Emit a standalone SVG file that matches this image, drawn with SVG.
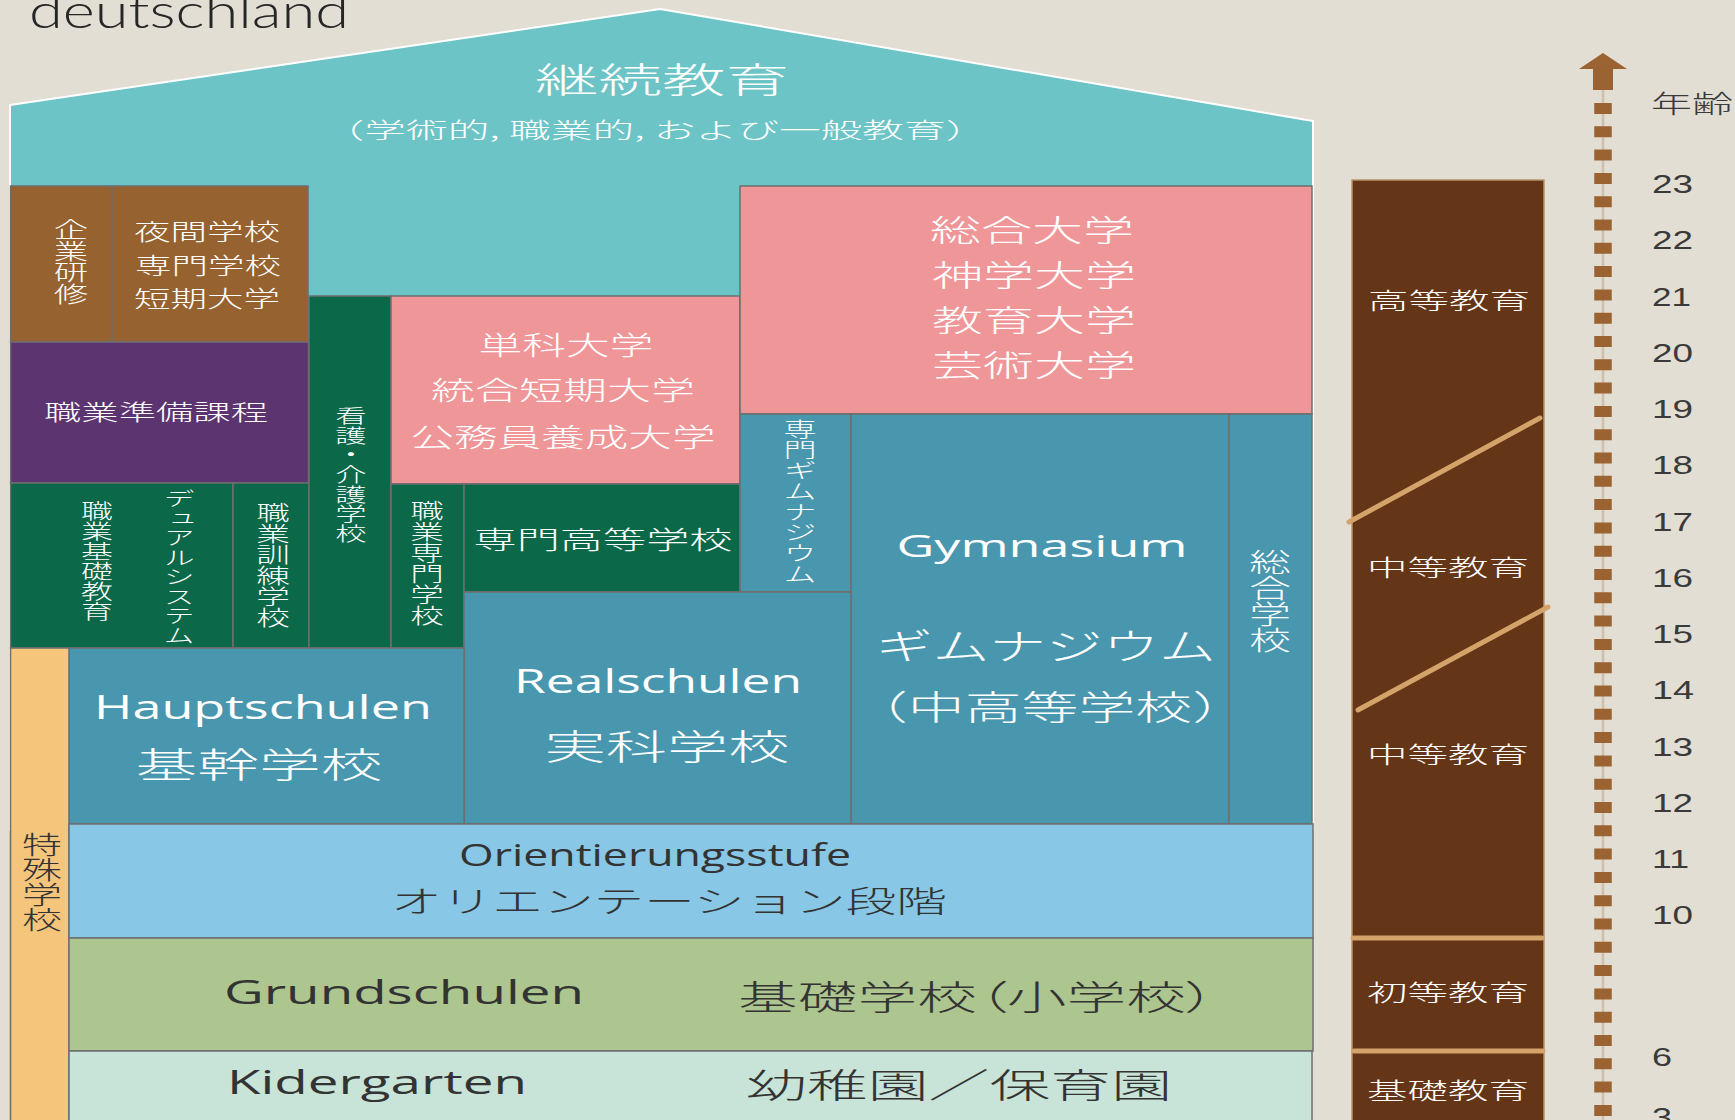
<svg xmlns="http://www.w3.org/2000/svg" width="1735" height="1120" viewBox="0 0 1735 1120">
<style>
.box{stroke:#6e6e6e;stroke-width:1.5}
.cjk{font-family:"Noto Sans CJK JP","Noto Sans CJK SC",sans-serif;font-weight:300}
.lat{font-family:"Open Sans","Liberation Sans",sans-serif}
.w{fill:#ffffff}
.d{fill:#333333}
.c{text-anchor:middle;dominant-baseline:central}
.m{text-anchor:middle}
.v{writing-mode:vertical-rl;text-anchor:middle}
.div{stroke:#d4a36a;stroke-width:5;stroke-linecap:round}
.palt{font-feature-settings:"palt"}
</style>
<rect x="0" y="0" width="1735" height="1120" fill="#e3ded3"/>
<text x="29" y="28" font-family="Lato,'Liberation Sans',sans-serif" font-weight="300" font-size="48" fill="#262626" textLength="320" lengthAdjust="spacingAndGlyphs">deutschland</text>

<g id="weiterbildung">
<polygon points="10,105 660,9 1313,121 1313,830 10,830" fill="#6cc4c6" stroke="#ffffff" stroke-width="2"/>
<text class="cjk w c" x="662" y="77" font-size="35" textLength="254" lengthAdjust="spacingAndGlyphs">継続教育</text>
<text class="cjk w c" x="655" y="128" font-size="22" textLength="665" lengthAdjust="spacingAndGlyphs">（学術的, 職業的, および一般教育）</text>
</g>

<g id="kigyou-kenshu">
<rect class="box" x="10.5" y="186" width="101.5" height="156" fill="#96622f"/>
<text class="cjk w v" transform="translate(71 0) scale(1.6 1)" x="0" y="261.5" font-size="21.5">企業研修</text>
</g>
<g id="yakan-gakkou">
<rect class="box" x="112" y="186" width="196" height="156" fill="#96622f"/>
<text class="cjk w c" x="207" y="230" font-size="22.5" textLength="146" lengthAdjust="spacingAndGlyphs">夜間学校</text>
<text class="cjk w c" x="208" y="264" font-size="22.5" textLength="146" lengthAdjust="spacingAndGlyphs">専門学校</text>
<text class="cjk w c" x="207" y="297" font-size="22.5" textLength="146" lengthAdjust="spacingAndGlyphs">短期大学</text>
</g>
<g id="shokugyo-junbi">
<rect class="box" x="10.5" y="342" width="298" height="141" fill="#5c3470"/>
<text class="cjk w c" x="156" y="410" font-size="22" textLength="224" lengthAdjust="spacingAndGlyphs">職業準備課程</text>
</g>
<g id="shokugyo-kiso-dual">
<rect class="box" x="10.5" y="483" width="222.5" height="165" fill="#0b6848"/>
<text class="cjk w v" transform="translate(97 0) scale(1.6 1)" x="0" y="561" font-size="20">職業基礎教育</text>
<text class="cjk w v" transform="translate(179 0) scale(1.6 1)" x="0" y="567" font-size="19.5">デュアルシステム</text>
</g>
<g id="shokugyo-kunren">
<rect class="box" x="233" y="483" width="76" height="165" fill="#0b6848"/>
<text class="cjk w v" transform="translate(273 0) scale(1.6 1)" x="0" y="564.5" font-size="21">職業訓練学校</text>
</g>
<g id="kango-kaigo">
<rect class="box" x="309" y="296" width="82" height="352" fill="#0b6848"/>
<text class="cjk w v" transform="translate(351 0) scale(1.6 1)" x="0" y="474.5" font-size="19.6">看護・介護学校</text>
</g>
<g id="tanka-daigaku">
<rect class="box" x="391" y="296" width="349" height="188" fill="#ef9698"/>
<text class="cjk w c" x="566" y="343" font-size="26" textLength="175" lengthAdjust="spacingAndGlyphs">単科大学</text>
<text class="cjk w c" x="563" y="388" font-size="26" textLength="264" lengthAdjust="spacingAndGlyphs">統合短期大学</text>
<text class="cjk w c" x="563" y="435" font-size="26" textLength="305" lengthAdjust="spacingAndGlyphs">公務員養成大学</text>
</g>
<g id="shokugyo-senmon">
<rect class="box" x="391" y="484" width="73" height="164" fill="#0b6848"/>
<text class="cjk w v" transform="translate(427 0) scale(1.6 1)" x="0" y="562.5" font-size="21">職業専門学校</text>
</g>
<g id="senmon-koutou">
<rect class="box" x="464" y="484" width="276" height="108" fill="#0b6848"/>
<text class="cjk w c" x="603" y="538" font-size="25" textLength="259" lengthAdjust="spacingAndGlyphs">専門高等学校</text>
</g>
<g id="sougou-daigaku">
<rect class="box" x="740" y="186" width="572" height="228" fill="#ef9698"/>
<text class="cjk w c" x="1032" y="228" font-size="30" textLength="204" lengthAdjust="spacingAndGlyphs">総合大学</text>
<text class="cjk w c" x="1034" y="273" font-size="30" textLength="204" lengthAdjust="spacingAndGlyphs">神学大学</text>
<text class="cjk w c" x="1034" y="318" font-size="30" textLength="204" lengthAdjust="spacingAndGlyphs">教育大学</text>
<text class="cjk w c" x="1034" y="363" font-size="30" textLength="204" lengthAdjust="spacingAndGlyphs">芸術大学</text>
</g>
<g id="fach-gymnasium">
<rect class="box" x="740" y="414" width="111" height="178" fill="#4897ae"/>
<text class="cjk w v" transform="translate(800 0) scale(1.6 1)" x="0" y="501.5" font-size="20.7">専門ギムナジウム</text>
</g>
<g id="gymnasium">
<rect class="box" x="851" y="414" width="378" height="410" fill="#4897ae"/>
<text class="lat w m" x="1042" y="557" font-size="31" textLength="291" lengthAdjust="spacingAndGlyphs">Gymnasium</text>
<text class="cjk w c" x="1046" y="644" font-size="36" textLength="340" lengthAdjust="spacingAndGlyphs">ギムナジウム</text>
<text class="cjk w c" x="1050" y="705" font-size="34" textLength="398" lengthAdjust="spacingAndGlyphs">（中高等学校）</text>
</g>
<g id="gesamtschule">
<rect class="box" x="1229" y="414" width="83" height="410" fill="#4897ae"/>
<text class="cjk w v" transform="translate(1270 0) scale(1.6 1)" x="0" y="601" font-size="26">総合学校</text>
</g>
<g id="realschulen">
<rect class="box" x="464" y="592" width="387" height="232" fill="#4897ae"/>
<text class="lat w m" x="658" y="693" font-size="33.5" textLength="288" lengthAdjust="spacingAndGlyphs">Realschulen</text>
<text class="cjk w c" x="667" y="744" font-size="35" textLength="245" lengthAdjust="spacingAndGlyphs">実科学校</text>
</g>
<g id="hauptschulen">
<rect class="box" x="69" y="648" width="395" height="176" fill="#4897ae"/>
<text class="lat w m" x="263" y="719" font-size="33.5" textLength="338" lengthAdjust="spacingAndGlyphs">Hauptschulen</text>
<text class="cjk w c" x="259" y="762" font-size="35" textLength="247" lengthAdjust="spacingAndGlyphs">基幹学校</text>
</g>
<g id="sonder-schule">
<rect class="box" x="10.5" y="648" width="58.5" height="480" fill="#f5c57b"/>
<text class="cjk d v" transform="translate(42 0) scale(1.6 1)" x="0" y="882" font-size="25">特殊学校</text>
</g>
<g id="orientierungsstufe">
<rect class="box" x="69" y="824" width="1244" height="114" fill="#88c7e5"/>
<text class="lat d m" x="655" y="866" font-size="31" textLength="392" lengthAdjust="spacingAndGlyphs">Orientierungsstufe</text>
<text class="cjk d c" x="669" y="899" font-size="30" textLength="556" lengthAdjust="spacingAndGlyphs">オリエンテーション段階</text>
</g>
<g id="grundschulen">
<rect class="box" x="69" y="938" width="1244" height="113" fill="#adc58f"/>
<text class="lat d m" x="404" y="1004" font-size="33.5" textLength="360" lengthAdjust="spacingAndGlyphs">Grundschulen</text>
<text class="cjk d c palt" x="977" y="995" font-size="34" textLength="478" lengthAdjust="spacingAndGlyphs">基礎学校（小学校）</text>
</g>
<g id="kindergarten">
<rect class="box" x="69" y="1051" width="1243" height="80" fill="#c8e3d7"/>
<text class="lat d m" x="377" y="1094" font-size="33.5" textLength="300" lengthAdjust="spacingAndGlyphs">Kidergarten</text>
<text class="cjk d c" x="959" y="1083" font-size="34" textLength="426" lengthAdjust="spacingAndGlyphs">幼稚園／保育園</text>
</g>

<g id="stufen">
<rect x="1352" y="180" width="192" height="950" fill="#643516" stroke="#b8946c" stroke-width="1.5"/>
<text class="cjk w c" x="1449" y="299" font-size="23" textLength="162" lengthAdjust="spacingAndGlyphs">高等教育</text>
<text class="cjk w c" x="1448" y="566" font-size="23" textLength="162" lengthAdjust="spacingAndGlyphs">中等教育</text>
<text class="cjk w c" x="1448" y="753" font-size="23" textLength="162" lengthAdjust="spacingAndGlyphs">中等教育</text>
<text class="cjk w c" x="1448" y="991" font-size="23" textLength="162" lengthAdjust="spacingAndGlyphs">初等教育</text>
<text class="cjk w c" x="1448" y="1089" font-size="23" textLength="162" lengthAdjust="spacingAndGlyphs">基礎教育</text>
</g>

<g id="connectors">
<line class="div" x1="1349" y1="522" x2="1540" y2="418"/>
<line class="div" x1="1358" y1="710" x2="1548" y2="607"/>
<line class="div" x1="1353" y1="938" x2="1542" y2="938" stroke-linecap="butt"/>
<line class="div" x1="1354" y1="1051" x2="1543" y2="1051" stroke-linecap="butt"/>
</g>

<g id="age-axis">
<line x1="1603" y1="80" x2="1603" y2="1120" stroke="#cdbfa9" stroke-width="2.5"/>
<line x1="1603" y1="103" x2="1603" y2="1120" stroke="#9b6331" stroke-width="17.5" stroke-dasharray="11 12.3"/>
<path d="M1603 53 L1627 69 L1613 69 L1613 90 L1593 90 L1593 69 L1579 69 Z" fill="#9b6331"/>
<text class="cjk" x="1651" y="102" font-size="25" fill="#3a3a3a" dominant-baseline="central" textLength="82" lengthAdjust="spacingAndGlyphs">年齢</text>
<g font-family="'Liberation Sans',sans-serif" font-size="25" fill="#3a3a3a">
<text x="1652" y="193" textLength="41" lengthAdjust="spacingAndGlyphs">23</text>
<text x="1652" y="249" textLength="41" lengthAdjust="spacingAndGlyphs">22</text>
<text x="1652" y="305.5" textLength="39" lengthAdjust="spacingAndGlyphs">21</text>
<text x="1652" y="362" textLength="41" lengthAdjust="spacingAndGlyphs">20</text>
<text x="1652" y="418" textLength="41" lengthAdjust="spacingAndGlyphs">19</text>
<text x="1652" y="474" textLength="41" lengthAdjust="spacingAndGlyphs">18</text>
<text x="1652" y="530.5" textLength="41" lengthAdjust="spacingAndGlyphs">17</text>
<text x="1652" y="587" textLength="41" lengthAdjust="spacingAndGlyphs">16</text>
<text x="1652" y="643" textLength="41" lengthAdjust="spacingAndGlyphs">15</text>
<text x="1652" y="699" textLength="42" lengthAdjust="spacingAndGlyphs">14</text>
<text x="1652" y="755.5" textLength="41" lengthAdjust="spacingAndGlyphs">13</text>
<text x="1652" y="811.5" textLength="41" lengthAdjust="spacingAndGlyphs">12</text>
<text x="1652" y="868" textLength="37" lengthAdjust="spacingAndGlyphs">11</text>
<text x="1652" y="924" textLength="41" lengthAdjust="spacingAndGlyphs">10</text>
<text x="1652" y="1066" textLength="20" lengthAdjust="spacingAndGlyphs">6</text>
<text x="1652" y="1126" textLength="20" lengthAdjust="spacingAndGlyphs">3</text>
</g>
</g>
</svg>
